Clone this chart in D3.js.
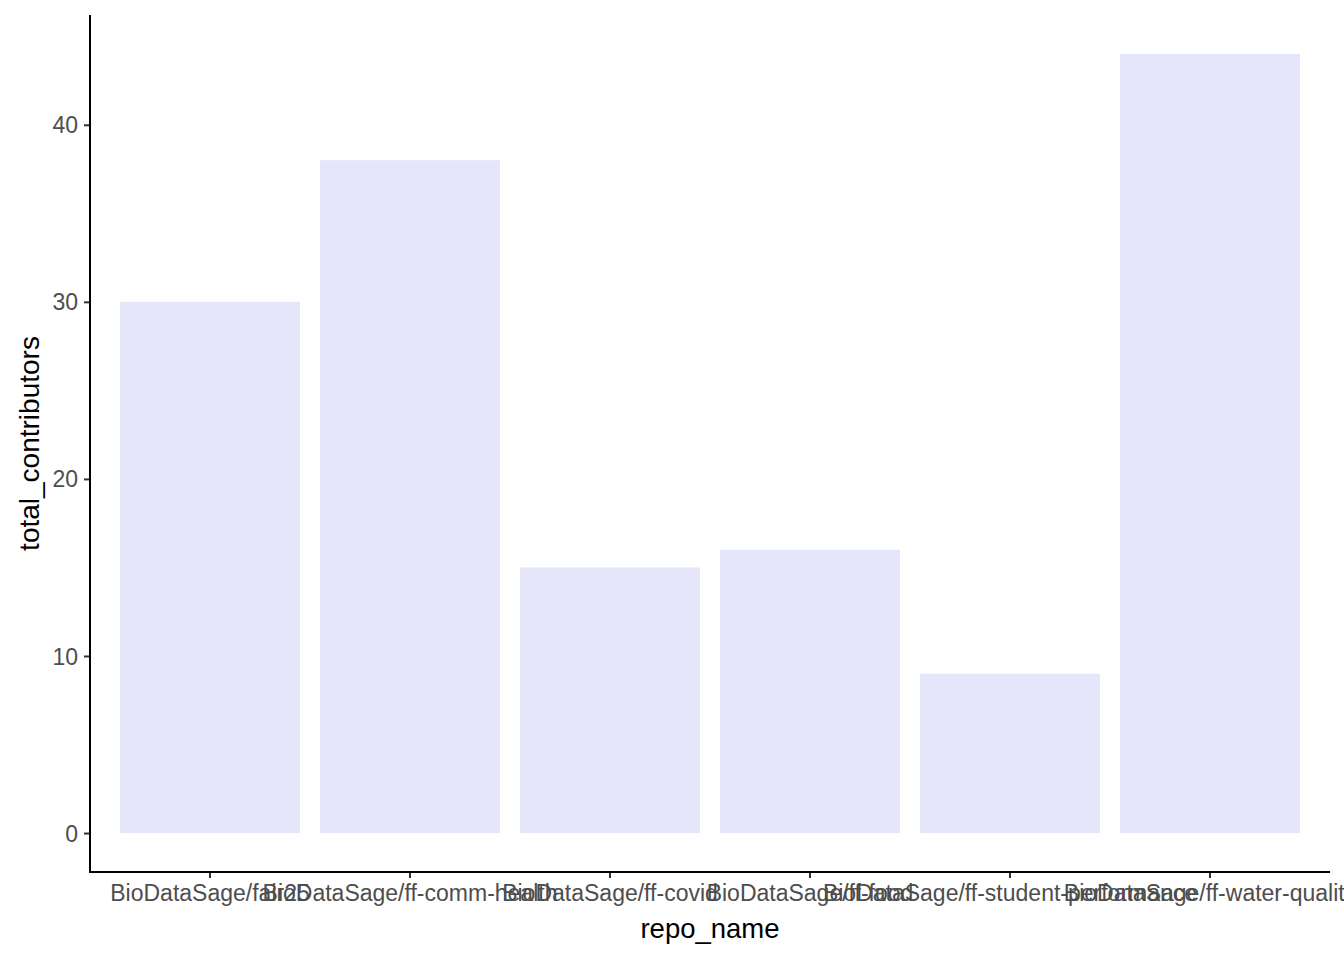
<!DOCTYPE html>
<html>
<head>
<meta charset="utf-8">
<script src="https://cdn.jsdelivr.net/npm/d3@7"></script>
<style>
  body { margin: 0; background: #fff; }
  text { font-family: "Liberation Sans", Arial, sans-serif; }
</style>
</head>
<body>
<div id="chart"></div>
<script>
const repoNames = [
    "BioDataSage/fair25",
    "BioDataSage/ff-comm-health",
    "BioDataSage/ff-covid",
    "BioDataSage/ff-food",
    "BioDataSage/ff-student-performance",
    "BioDataSage/ff-water-quality"
]
const totalContributors = [30, 38, 15, 16, 9, 44]
const yTicks = [0, 10, 20, 30, 40]

const data = repoNames.map((name, i) => ({name, value: totalContributors[i]}))

let outerWidth = 1344
let outerHeight = 960
let margin = {top: 15, bottom: 88, left: 90, right: 14}
let w = outerWidth - margin.left - margin.right
let h = outerHeight - margin.top - margin.bottom

const svg = d3.select("#chart")
    .append("svg")
    .attr("width", outerWidth)
    .attr("height", outerHeight)

const g = svg.append("g")
    .attr("transform", `translate(${margin.left}, ${margin.top})`)

// ggplot style discrete scale: 0.6 step from edge to first centre, bars 0.9 wide
const xScale = d3.scaleBand()
    .domain(repoNames)
    .range([0, w])
    .paddingInner(0.1)
    .paddingOuter(0.15)

const ymax = d3.max(totalContributors)
const yScale = d3.scaleLinear()
    .domain([-0.05 * ymax, ymax * 1.05])
    .range([h, 0])

g.selectAll(".bar")
    .data(data)
    .enter()
    .append("rect")
    .attr("class", "bar")
    .attr("x", d => xScale(d.name))
    .attr("width", xScale.bandwidth())
    .attr("y", d => yScale(d.value))
    .attr("height", d => yScale(0) - yScale(d.value))
    .attr("fill", "#E6E6FA")

const xAxis = d3.axisBottom(xScale).tickSize(6).tickPadding(5)
const yAxis = d3.axisLeft(yScale).tickValues(yTicks).tickSize(6).tickPadding(6)

const gx = g.append("g")
    .attr("class", "axis x-axis")
    .attr("transform", `translate(0, ${h})`)
    .call(xAxis)

const gy = g.append("g")
    .attr("class", "axis y-axis")
    .call(yAxis)

for (const ax of [gx, gy]) {
    ax.select(".domain").remove()
    ax.selectAll(".tick line").attr("stroke", "#333").attr("stroke-width", 2)
    ax.selectAll(".tick text")
        .attr("fill", "#4D4D4D")
        .style("font-size", "23px")
}
gx.selectAll(".tick text").attr("dy", "0.8em")
gy.selectAll(".tick text").attr("dy", "0.35em")

// axis lines (classic theme)
g.append("line")
    .attr("x1", -1).attr("x2", w)
    .attr("y1", h).attr("y2", h)
    .attr("stroke", "#000").attr("stroke-width", 2)
g.append("line")
    .attr("x1", 0).attr("x2", 0)
    .attr("y1", 0).attr("y2", h)
    .attr("stroke", "#000").attr("stroke-width", 2)

svg.append("text")
    .attr("x", margin.left + w / 2)
    .attr("y", 938)
    .attr("text-anchor", "middle")
    .style("font-size", "27.5px")
    .text("repo_name")

svg.append("text")
    .attr("transform", `translate(39, ${margin.top + h / 2}) rotate(-90)`)
    .attr("text-anchor", "middle")
    .style("font-size", "28px")
    .text("total_contributors")
</script>
</body>
</html>
